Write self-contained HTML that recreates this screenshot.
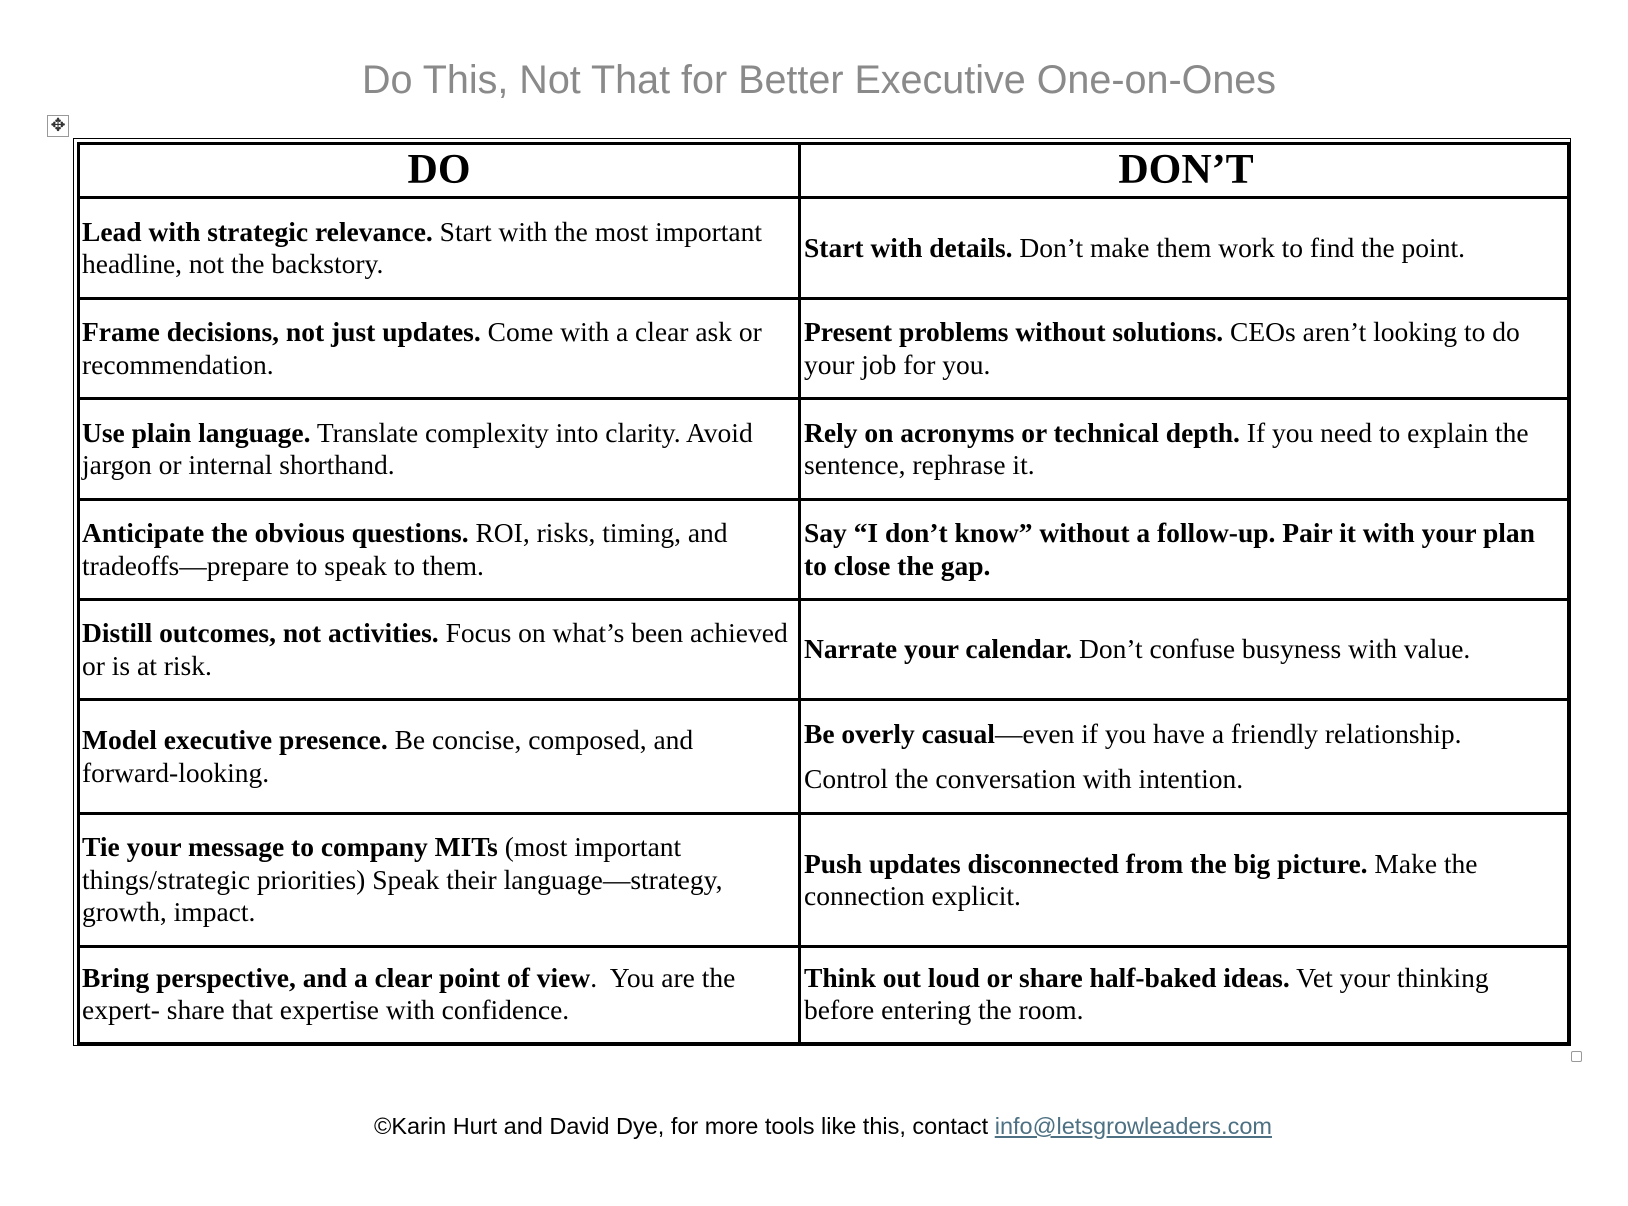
<!DOCTYPE html>
<html><head><meta charset="utf-8"><style>
body{margin:0;width:1628px;height:1206px;background:#fff;position:relative;overflow:hidden;font-family:"Liberation Serif",serif;color:#000}
.title{position:absolute;left:0;width:1638px;top:58px;text-align:center;font-family:"Liberation Sans",sans-serif;font-size:39.5px;color:#8a8a8a}
.mv{position:absolute;left:47px;top:115px;width:20px;height:20px;border:1px solid #999;font-size:18px;line-height:20px;text-align:center;color:#333;font-family:"DejaVu Sans",sans-serif}
.outer{position:absolute;left:73px;top:138px;width:1496px;height:906px;border:1.5px solid #000}
.inner{position:absolute;left:77px;top:142px;width:1487px;height:897px;border:3px solid #000}
.h{position:absolute;left:77px;width:1493px;height:3px;background:#000}
.v{position:absolute;left:798px;top:142px;width:3px;height:901px;background:#000}
.c{position:absolute;display:flex;align-items:center;font-size:27.5px;line-height:32.5px;white-space:nowrap}
.l{left:82px;width:714px}.r{left:804px;width:764px}
.hd{justify-content:center;font-weight:bold;font-size:42px}
.foot{position:absolute;left:0;width:1646px;top:1113px;text-align:center;font-family:"Liberation Sans",sans-serif;font-size:23.5px}
.foot a{color:#4d7183;text-decoration:underline}
</style></head><body>
<div class="title">Do This, Not That for Better Executive One-on-Ones</div>
<div class="mv">✥</div>
<div class="outer"></div><div class="inner"></div>
<div class="h" style="top:196px"></div>
<div class="h" style="top:297px"></div>
<div class="h" style="top:397px"></div>
<div class="h" style="top:498px"></div>
<div class="h" style="top:598px"></div>
<div class="h" style="top:698px"></div>
<div class="h" style="top:812px"></div>
<div class="h" style="top:945px"></div>
<div class="v"></div>

<div class="c l hd" style="top:145px;height:51px">DO</div>
<div class="c r hd" style="top:145px;height:51px">DON’T</div>

<div class="c l" style="top:199px;height:98px"><div><b>Lead with strategic relevance.</b> Start with the most important<br>headline, not the backstory.</div></div>
<div class="c r" style="top:199px;height:98px"><div><b>Start with details.</b> Don’t make them work to find the point.</div></div>

<div class="c l" style="top:300px;height:97px"><div><b>Frame decisions, not just updates.</b> Come with a clear ask or<br>recommendation.</div></div>
<div class="c r" style="top:300px;height:97px"><div><b>Present problems without solutions.</b> CEOs aren’t looking to do<br>your job for you.</div></div>

<div class="c l" style="top:400px;height:98px"><div><b>Use plain language.</b> Translate complexity into clarity. Avoid<br>jargon or internal shorthand.</div></div>
<div class="c r" style="top:400px;height:98px"><div><b>Rely on acronyms or technical depth.</b> If you need to explain the<br>sentence, rephrase it.</div></div>

<div class="c l" style="top:501px;height:97px"><div><b>Anticipate the obvious questions.</b> ROI, risks, timing, and<br>tradeoffs—prepare to speak to them.</div></div>
<div class="c r" style="top:501px;height:97px"><div><b>Say “I don’t know” without a follow-up. Pair it with your plan<br>to close the gap.</b></div></div>

<div class="c l" style="top:601px;height:97px"><div><b>Distill outcomes, not activities.</b> Focus on what’s been achieved<br>or is at risk.</div></div>
<div class="c r" style="top:601px;height:97px"><div><b>Narrate your calendar.</b> Don’t confuse busyness with value.</div></div>

<div class="c l" style="top:701px;height:111px"><div><b>Model executive presence.</b> Be concise, composed, and<br>forward-looking.</div></div>
<div class="c r" style="top:701px;height:111px"><div><b>Be overly casual</b>—even if you have a friendly relationship.<div style="margin-top:13px">Control the conversation with intention.</div></div></div>

<div class="c l" style="top:815px;height:130px"><div><b>Tie your message to company MITs</b> (most important<br>things/strategic priorities) Speak their language—strategy,<br>growth, impact.</div></div>
<div class="c r" style="top:815px;height:130px"><div><b>Push updates disconnected from the big picture.</b> Make the<br>connection explicit.</div></div>

<div class="c l" style="top:948px;height:92px"><div><b>Bring perspective, and a clear point of view</b>.&nbsp; You are the<br>expert- share that expertise with confidence.</div></div>
<div class="c r" style="top:948px;height:92px"><div><b>Think out loud or share half-baked ideas.</b> Vet your thinking<br>before entering the room.</div></div>

<div style="position:absolute;left:1571px;top:1051px;width:9px;height:9px;border:1px solid #999;border-radius:2px"></div>
<div class="foot">©Karin Hurt and David Dye, for more tools like this, contact <a>info@letsgrowleaders.com</a></div>
</body></html>
